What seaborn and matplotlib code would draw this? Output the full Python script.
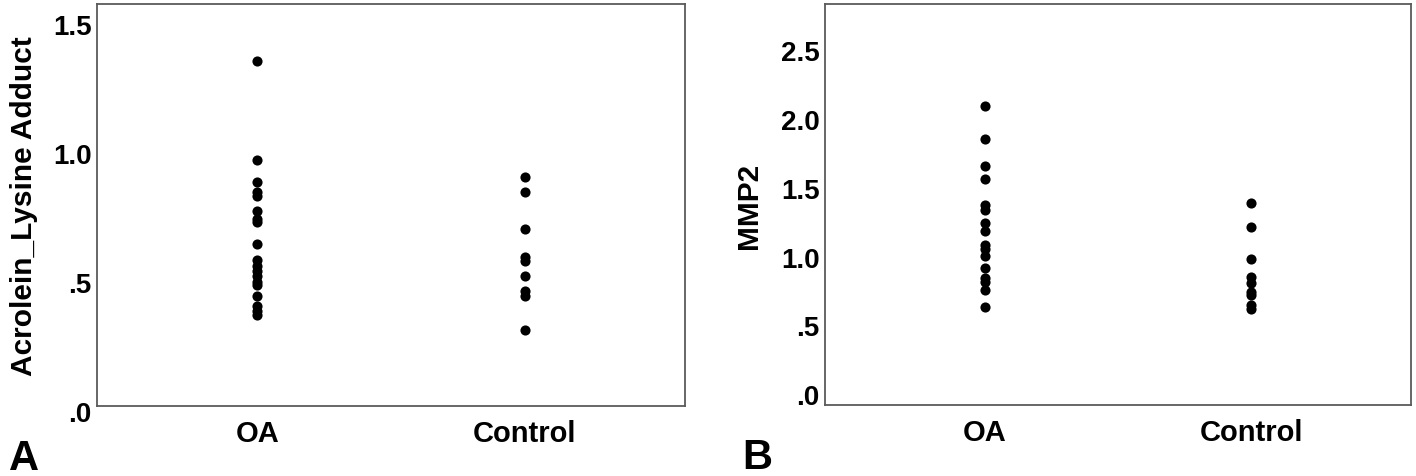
import matplotlib
matplotlib.use("Agg")
import matplotlib.pyplot as plt
from matplotlib.transforms import ScaledTranslation
import seaborn as sns
import pandas as pd

# ---- data ----
groups = ["OA", "Control"]
acrolein_oa = [1.34, 0.955, 0.87, 0.83, 0.815, 0.755, 0.727, 0.715, 0.63, 0.565,
               0.545, 0.525, 0.505, 0.483, 0.468, 0.425, 0.387, 0.367, 0.352]
acrolein_ctrl = [0.889, 0.831, 0.688, 0.58, 0.564, 0.506, 0.445, 0.425, 0.294]
mmp2_oa = [2.06, 1.82, 1.62, 1.53, 1.34, 1.30, 1.21, 1.15, 1.05, 1.02, 0.97,
           0.88, 0.81, 0.78, 0.72, 0.60]
mmp2_ctrl = [1.352, 1.175, 0.945, 0.816, 0.77, 0.703, 0.683, 0.61, 0.581]

a_ticks = [0.0, 0.5, 1.0, 1.5]
a_ticklabels = [".0", ".5", "1.0", "1.5"]
b_ticks = [0.0, 0.5, 1.0, 1.5, 2.0, 2.5]
b_ticklabels = [".0", ".5", "1.0", "1.5", "2.0", "2.5"]

ylabel_a = "Acrolein_Lysine Adduct"
ylabel_b = "MMP2"
panel_letters = ["A", "B"]

df_a = pd.DataFrame({
    "group": [groups[0]] * len(acrolein_oa) + [groups[1]] * len(acrolein_ctrl),
    "value": acrolein_oa + acrolein_ctrl,
})
df_b = pd.DataFrame({
    "group": [groups[0]] * len(mmp2_oa) + [groups[1]] * len(mmp2_ctrl),
    "value": mmp2_oa + mmp2_ctrl,
})

sns.set_theme(style="white")
plt.rcParams["font.family"] = ["Liberation Sans", "DejaVu Sans"]
plt.rcParams["font.weight"] = "bold"
plt.rcParams["text.color"] = "black"
plt.rcParams["axes.labelcolor"] = "black"
plt.rcParams["xtick.color"] = "black"
plt.rcParams["ytick.color"] = "black"

W, H = 1416, 477
fig = plt.figure(figsize=(W / 100, H / 100), dpi=100)

def px_axes(l, r, t, b):
    return fig.add_axes([l / W, 1 - b / H, (r - l) / W, (b - t) / H])

ax_a = px_axes(97, 685, 5, 407)
ax_b = px_axes(825, 1411, 5, 406)

specs = [
    (ax_a, df_a, (0.0, 1.56), a_ticks, a_ticklabels, ylabel_a, -0.100),
    (ax_b, df_b, (-0.116, 2.80), b_ticks, b_ticklabels, ylabel_b, -0.106),
]

for ax, df, ylim, ticks, tlabels, ylab, lx in specs:
    sns.stripplot(data=df, x="group", y="value", order=groups, jitter=False,
                  color="black", size=7.3, linewidth=0, ax=ax)
    ax.set_xlim(-0.6, 1.6)
    ax.set_ylim(*ylim)
    ax.set_yticks(ticks)
    ax.set_yticklabels(tlabels, fontsize=20, fontweight="bold", color="black")
    ax.set_xticklabels(groups, fontsize=21, fontweight="bold", color="black")
    ax.set_xlabel("")
    ax.set_ylabel(ylab, fontsize=21.5, fontweight="bold", color="black")
    ax.yaxis.set_label_coords(lx, 0.5)
    ax.tick_params(axis="both", length=0)
    ax.tick_params(axis="y", pad=4)
    ax.tick_params(axis="x", pad=9.5)
    for sp in ax.spines.values():
        sp.set_visible(True)
        sp.set_color("#5a5a5a")
        sp.set_linewidth(1.3)
    off = ScaledTranslation(0, -0.05, fig.dpi_scale_trans)
    for lab in ax.get_yticklabels():
        lab.set_transform(lab.get_transform() + off)

fig.text(9 / W, 1 - 470 / H, panel_letters[0], fontsize=30, fontweight="bold",
         va="baseline", ha="left", color="black")
fig.text(742 / W, 1 - 469 / H, panel_letters[1], fontsize=30, fontweight="bold",
         va="baseline", ha="left", color="black")

fig.savefig("out.png", dpi=100, facecolor="white")
